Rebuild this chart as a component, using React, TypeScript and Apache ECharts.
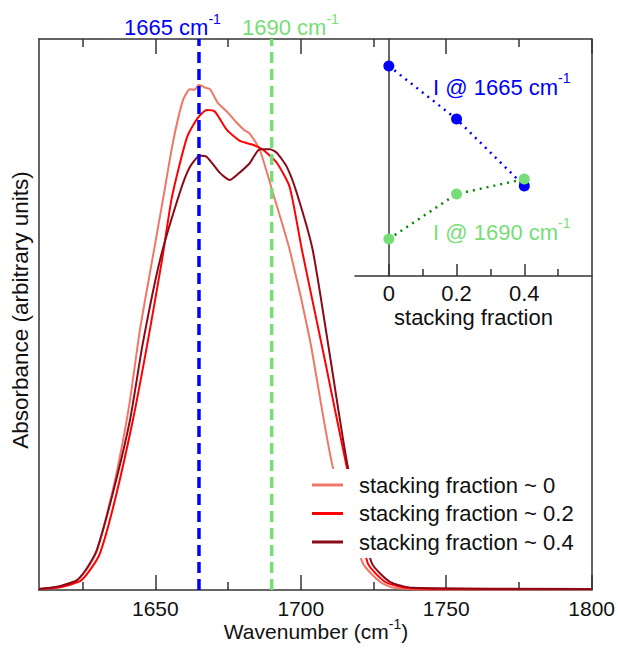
import React, { useEffect, useRef } from "react";
import * as echarts from "echarts";

// ---------- data ----------
const seriesNames = ["stacking fraction ~ 0", "stacking fraction ~ 0.2", "stacking fraction ~ 0.4"];

const wavenumber0 = [1610, 1617.2, 1623.1, 1626.5, 1629.9, 1635.4, 1638.9, 1641.3, 1644.7, 1648.8, 1652.6, 1656.0, 1659.5, 1661.9, 1663.5, 1665.0, 1667.0, 1668.8, 1671.5, 1675.0, 1678.0, 1680.5, 1682.5, 1685.9, 1690.4, 1696.2, 1703.1, 1711.0, 1721.3, 1727.2, 1732.0, 1745, 1800];
const absorbance0 = [0.002, 0.007, 0.018, 0.038, 0.071, 0.182, 0.272, 0.345, 0.472, 0.595, 0.708, 0.811, 0.889, 0.909, 0.908, 0.917, 0.912, 0.909, 0.884, 0.866, 0.848, 0.835, 0.828, 0.799, 0.721, 0.617, 0.455, 0.223, 0.049, 0.015, 0.004, 0.001, 0.001];

const wavenumber1 = [1610, 1617.2, 1624.1, 1627.5, 1631.0, 1636.1, 1642.3, 1647.5, 1652.3, 1655.7, 1660.9, 1664.6, 1667.7, 1670.5, 1674.6, 1679.1, 1683.5, 1687.0, 1691.8, 1696.2, 1700.4, 1708.3, 1715.8, 1723.0, 1728.9, 1735.8, 1745, 1800];
const absorbance1 = [0.002, 0.005, 0.016, 0.036, 0.067, 0.163, 0.309, 0.454, 0.599, 0.713, 0.822, 0.857, 0.871, 0.868, 0.835, 0.815, 0.808, 0.799, 0.775, 0.731, 0.617, 0.417, 0.223, 0.049, 0.015, 0.004, 0.002, 0.002];

const wavenumber2 = [1610, 1617.2, 1623.1, 1626.5, 1629.9, 1635.4, 1641.3, 1645.7, 1651.6, 1658.4, 1661.9, 1665.3, 1667.7, 1672.2, 1675.6, 1678.0, 1682.5, 1685.9, 1689.4, 1691.8, 1695.2, 1698.6, 1704.1, 1710.0, 1716.2, 1724.4, 1730.6, 1738.5, 1800];
const absorbance2 = [0.002, 0.007, 0.018, 0.040, 0.073, 0.176, 0.309, 0.448, 0.599, 0.721, 0.768, 0.788, 0.786, 0.757, 0.744, 0.753, 0.775, 0.8, 0.8, 0.793, 0.768, 0.721, 0.617, 0.426, 0.223, 0.049, 0.015, 0.004, 0.002];

const markerWavenumbers = [1665, 1690];

const stackingFractions = [0, 0.2, 0.4];
const intensity1665 = [0.886, 0.662, 0.38];
const intensity1690 = [0.156, 0.346, 0.409];

const mainMajorTicks = [1650, 1700, 1750, 1800];
const mainMinorTicks = [1625, 1675, 1725, 1775];
const insetMajorTicks = [0, 0.2, 0.4];
const insetMinorTicks = [0.1, 0.3, 0.5];

// ---------- styles ----------
const FONT = "'Liberation Sans', Arial, Helvetica, sans-serif";
const FS = 22;
const FS_TICK = 21;
const TEXT = "#111";
const AXIS = "#333";
const PINK = "#EE7766";
const RED = "#FF0000";
const DARK = "#8B0A18";
const BLUE = "#0000FF";
const LGREEN = "#77DD77";
const DGREEN = "#008A00";

const zip = (xs: number[], ys: number[]) => xs.map((x, i) => [x, ys[i]]);

function supLabel(main: string, color: string, x: number, y: number, fs: number, pad: number) {
  return {
    type: "text",
    x,
    y,
    style: {
      text: `{b|${main}}{sup|-1}`,
      align: "left",
      verticalAlign: "top",
      rich: {
        b: { fontFamily: FONT, fontSize: fs, fill: color, verticalAlign: "bottom" },
        sup: { fontFamily: FONT, fontSize: 14, fill: color, verticalAlign: "top", padding: [0, 0, pad, 0] },
      },
    },
    z: 20,
  };
}

export default function App() {
  const ref = useRef<HTMLDivElement>(null);

  useEffect(() => {
    if (!ref.current) return;
    const chart = echarts.init(ref.current, undefined, { renderer: "svg" });

    const lineAxisBase = {
      axisLine: { show: true, lineStyle: { color: AXIS, width: 1.5 } },
      splitLine: { show: false },
    };
    const curveCommon = {
      type: "line", xAxisIndex: 0, yAxisIndex: 0, symbol: "none", showSymbol: false,
      smooth: 0.2, z: 2,
    };

    const option: any = {
      animation: false,
      backgroundColor: "#fff",
      grid: [
        { left: 39, top: 39, width: 553, height: 551 },
        { left: 355, top: 39, width: 237, height: 237 },
      ],
      xAxis: [
        {
          ...lineAxisBase,
          gridIndex: 0, type: "value", min: 1610, max: 1800, position: "bottom",
          axisTick: { show: true, inside: true, length: 15, customValues: mainMajorTicks, lineStyle: { color: AXIS, width: 1.5 } },
          axisLabel: {
            show: true, customValues: mainMajorTicks, margin: 8, fontFamily: FONT, fontSize: FS_TICK, color: TEXT,
            formatter: (v: number) => String(v),
          },
        },
        {
          gridIndex: 0, type: "value", min: 1610, max: 1800, position: "bottom",
          axisLine: { show: false }, splitLine: { show: false },
          axisTick: { show: true, inside: true, length: 8, customValues: mainMinorTicks, lineStyle: { color: AXIS, width: 1.5 } },
          axisLabel: { show: false },
        },
        {
          ...lineAxisBase,
          gridIndex: 0, type: "value", min: 1610, max: 1800, position: "top",
          axisTick: { show: true, inside: true, length: 15, customValues: mainMajorTicks, lineStyle: { color: AXIS, width: 1.5 } },
          axisLabel: { show: false },
        },
        {
          gridIndex: 0, type: "value", min: 1610, max: 1800, position: "top",
          axisLine: { show: false }, splitLine: { show: false },
          axisTick: { show: true, inside: true, length: 8, customValues: mainMinorTicks, lineStyle: { color: AXIS, width: 1.5 } },
          axisLabel: { show: false },
        },
        {
          ...lineAxisBase,
          gridIndex: 1, type: "value", min: -0.1, max: 0.6, position: "bottom",
          axisTick: { show: true, inside: true, length: 12, customValues: insetMajorTicks, lineStyle: { color: AXIS, width: 1.5 } },
          axisLabel: {
            show: true, customValues: insetMajorTicks, margin: 6, fontFamily: FONT, fontSize: FS, color: TEXT,
            formatter: (v: number) => (Math.abs(v) < 1e-9 ? "0" : String(Math.round(v * 10) / 10)),
          },
          name: "stacking fraction", nameLocation: "middle", nameGap: 30,
          nameTextStyle: { fontFamily: FONT, fontSize: FS, color: TEXT },
        },
        {
          gridIndex: 1, type: "value", min: -0.1, max: 0.6, position: "bottom",
          axisLine: { show: false }, splitLine: { show: false },
          axisTick: { show: true, inside: true, length: 7, customValues: insetMinorTicks, lineStyle: { color: AXIS, width: 1.5 } },
          axisLabel: { show: false },
        },
      ],
      yAxis: [
        { ...lineAxisBase, gridIndex: 0, type: "value", min: 0, max: 1, position: "left", axisTick: { show: false }, axisLabel: { show: false } },
        { ...lineAxisBase, gridIndex: 0, type: "value", min: 0, max: 1, position: "right", axisTick: { show: false }, axisLabel: { show: false } },
        { ...lineAxisBase, gridIndex: 1, type: "value", min: 0, max: 1, position: "left", axisTick: { show: false }, axisLabel: { show: false } },
      ],
      legend: {
        data: seriesNames,
        orient: "vertical",
        left: 302,
        top: 469,
        itemWidth: 31,
        itemHeight: 3,
        itemGap: 6.5,
        icon: "rect",
        selectedMode: false,
        backgroundColor: "#fff",
        padding: [5, 10, 5, 10],
        textStyle: { fontFamily: FONT, fontSize: FS, color: TEXT, padding: [0, 0, 0, 11] },
        z: 10,
      },
      series: [
        { ...curveCommon, name: seriesNames[0], data: zip(wavenumber0, absorbance0), lineStyle: { color: PINK, width: 2 }, itemStyle: { color: PINK } },
        { ...curveCommon, name: seriesNames[1], data: zip(wavenumber1, absorbance1), lineStyle: { color: RED, width: 2 }, itemStyle: { color: RED } },
        { ...curveCommon, name: seriesNames[2], data: zip(wavenumber2, absorbance2), lineStyle: { color: DARK, width: 2 }, itemStyle: { color: DARK } },
        {
          name: "1665", type: "line", xAxisIndex: 0, yAxisIndex: 0,
          data: [[markerWavenumbers[0], 0], [markerWavenumbers[0], 1]], symbol: "none",
          lineStyle: { color: BLUE, width: 3.5, type: [11, 6] }, z: 3, silent: true,
        },
        {
          name: "1690", type: "line", xAxisIndex: 0, yAxisIndex: 0,
          data: [[markerWavenumbers[1], 0], [markerWavenumbers[1], 1]], symbol: "none",
          lineStyle: { color: LGREEN, width: 3.5, type: [11, 6] }, z: 3, silent: true,
        },
        {
          name: "I1665", type: "line", xAxisIndex: 4, yAxisIndex: 2,
          data: zip(stackingFractions, intensity1665), symbol: "circle", symbolSize: 11, showSymbol: true,
          itemStyle: { color: BLUE }, lineStyle: { color: BLUE, width: 2.5, type: [2, 5] }, z: 4,
        },
        {
          name: "I1690", type: "line", xAxisIndex: 4, yAxisIndex: 2,
          data: zip(stackingFractions, intensity1690), symbol: "circle", symbolSize: 11, showSymbol: true,
          itemStyle: { color: LGREEN }, lineStyle: { color: DGREEN, width: 2.5, type: [2, 5] }, z: 5,
        },
      ],
      graphic: [
        supLabel("1665 cm", BLUE, 124, 11.5, FS, 13),
        supLabel("1690 cm", LGREEN, 242, 11.5, FS, 13),
        supLabel("I @ 1665 cm", BLUE, 433, 71, FS, 13),
        supLabel("I @ 1690 cm", LGREEN, 433, 216, FS, 13),
        {
          type: "text",
          x: 316,
          y: 617,
          style: {
            text: "{b|Wavenumber (cm}{sup|-1}{b|)}",
            align: "center",
            verticalAlign: "top",
            rich: {
              b: { fontFamily: FONT, fontSize: 21, fill: TEXT, verticalAlign: "bottom" },
              sup: { fontFamily: FONT, fontSize: 14, fill: TEXT, verticalAlign: "top", padding: [0, 0, 11, 0] },
            },
          },
          z: 20,
        },
        {
          type: "text",
          x: 20,
          y: 310,
          rotation: Math.PI / 2,
          style: {
            text: "Absorbance (arbitrary units)",
            fontFamily: FONT,
            fontSize: 22.5,
            fill: TEXT,
            align: "center",
            verticalAlign: "middle",
          },
          z: 20,
        },
      ],
    };

    chart.setOption(option);
    return () => chart.dispose();
  }, []);

  return <div ref={ref} style={{ position: "absolute", left: 0, top: 0, width: 618, height: 652 }} />;
}
